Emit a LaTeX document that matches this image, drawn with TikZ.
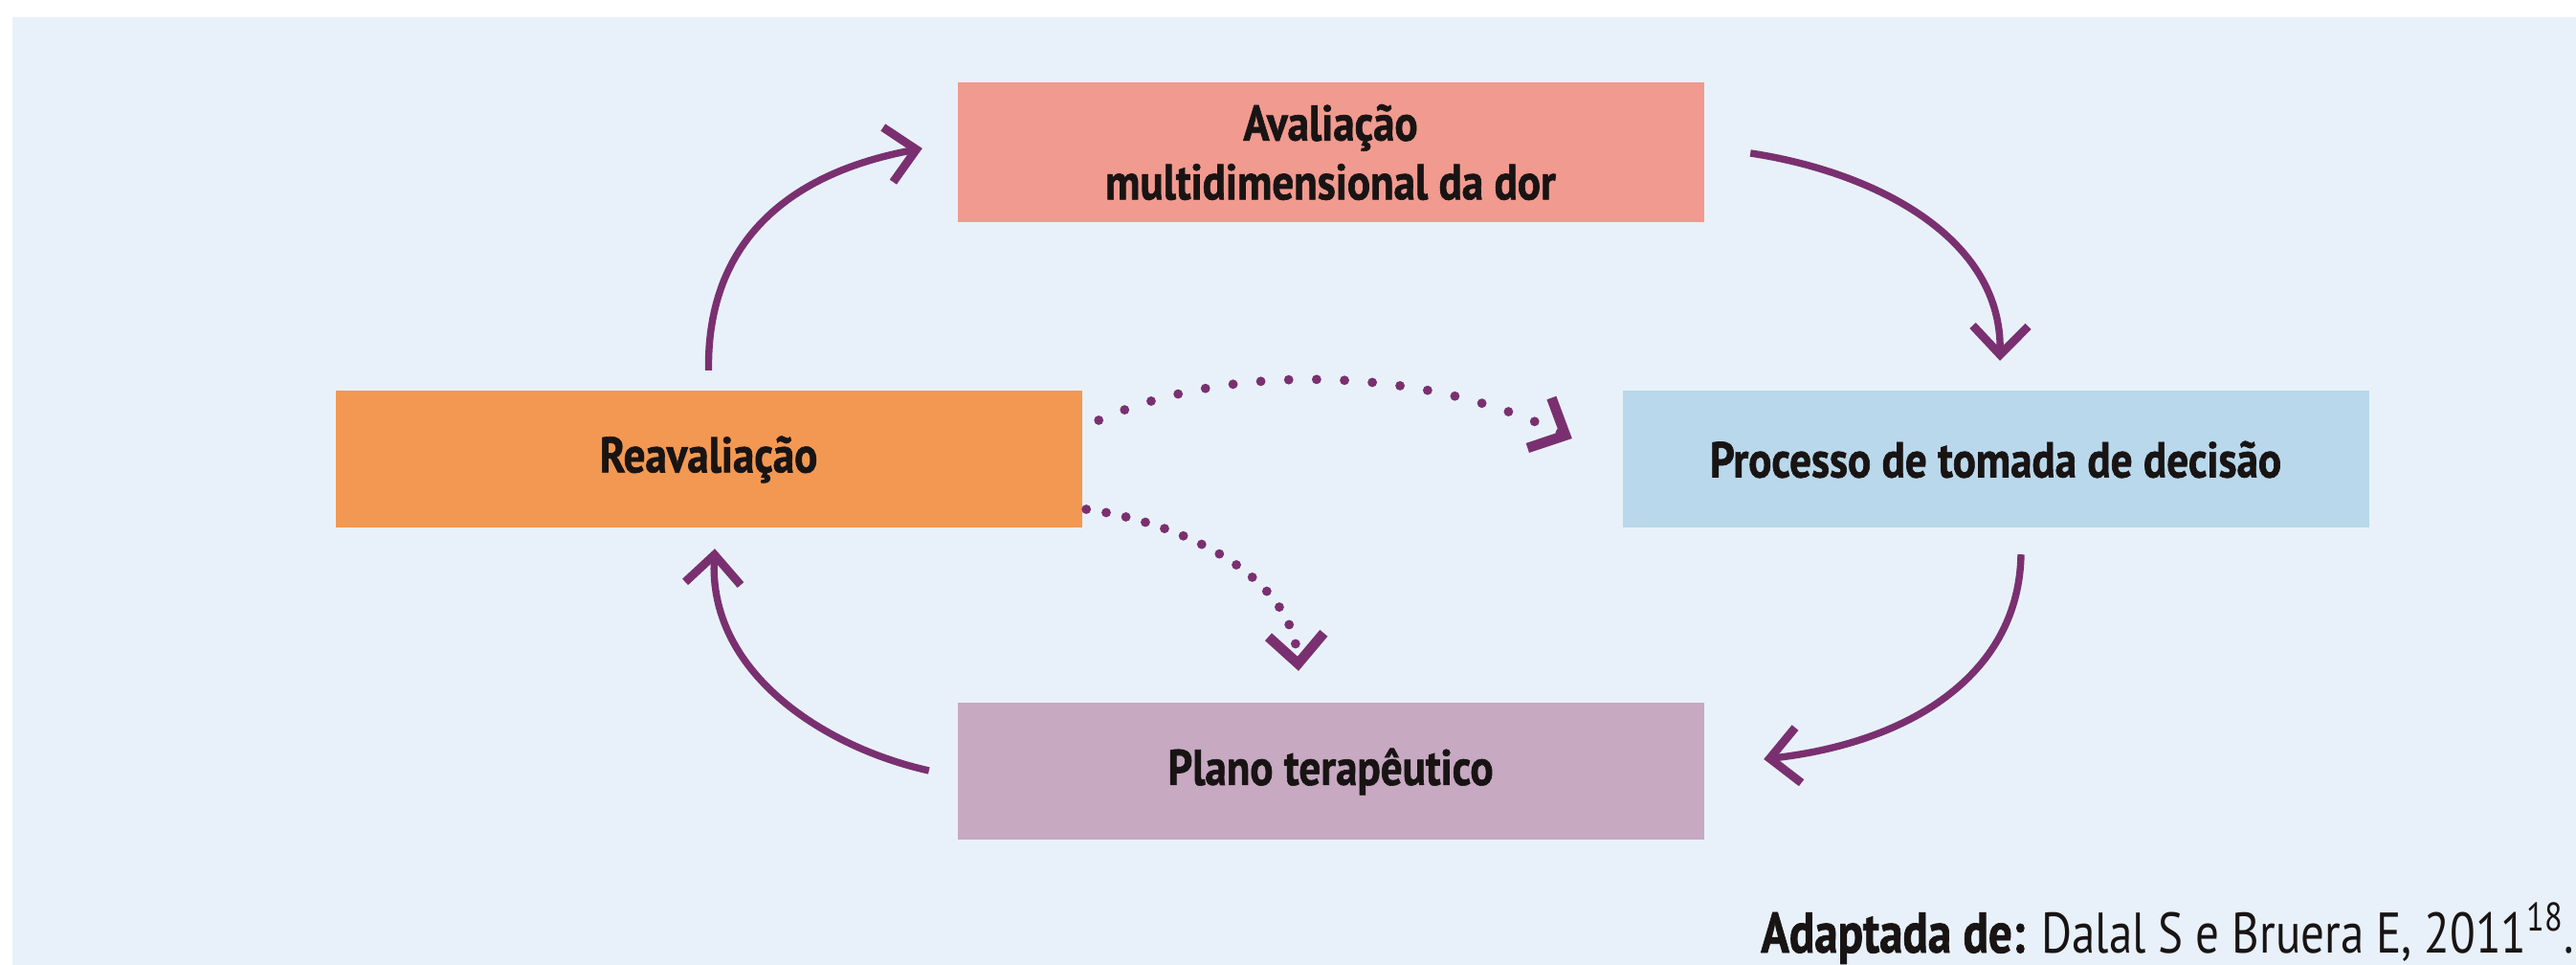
\documentclass[tikz,border=0pt]{standalone}
\usepackage{fontspec}
\setmainfont{PT Sans}[FakeStretch=0.86, BoldFeatures={FakeBold=1.2}]
\newfontfamily\capfont{PT Sans}[FakeStretch=0.82, BoldFeatures={FakeBold=1.2}]
\usetikzlibrary{arrows.meta,calc}
\definecolor{bgc}{RGB}{232,241,249}
\definecolor{avalc}{RGB}{241,154,143}
\definecolor{reavc}{RGB}{242,152,82}
\definecolor{procc}{RGB}{185,216,235}
\definecolor{planc}{RGB}{199,169,194}
\definecolor{arrc}{RGB}{122,48,112}
\definecolor{txt}{RGB}{25,20,20}
\tikzset{
  box/.style={rectangle, inner sep=0pt, minimum width=7.8cm, minimum height=1.43cm,
    align=center, text=txt, font=\fontsize{14.9}{17.5}\selectfont\bfseries},
  arr/.style={draw=arrc, line width=2.1pt,
    -{Straight Barb[length=0.3cm,width=0.58cm,line width=2.5pt]}},
  dotarr/.style={draw=arrc, line width=2.8pt, line cap=round, dash pattern=on 0pt off 8.3pt,
    -{Straight Barb[length=0.3cm,width=0.58cm,line width=3pt]}},
  dotarrb/.style={draw=arrc, line width=2.8pt, line cap=round, dash pattern=on 0pt off 6pt,
    -{Straight Barb[length=0.3cm,width=0.58cm,line width=3pt]}}
}
\begin{document}
\begin{tikzpicture}
\useasboundingbox (0,0) rectangle (26.92,-10.08);
\fill[white] (0,0) rectangle (26.92,-10.08);
\fill[bgc] (0.13,-0.18) rectangle (26.92,-10.08);

\node[box, fill=avalc, minimum height=1.46cm] (aval) at (13.905,-1.59) {Avaliação\\multidimensional da dor};
\node[box, fill=reavc] (reav) at (7.405,-4.80) {Reavaliação};
\node[box, fill=procc] (proc) at (20.855,-4.80) {Processo de tomada de decisão};
\node[box, fill=planc] (plan) at (13.905,-8.06) {Plano terapêutico};

\draw[arr] ($(reav.north)+(0,0.21)$) .. controls +(-0.02,1.38) and +(-1.35,-0.25) .. ($(aval.west)+(-0.36,0.04)$);
\draw[arr] ($(aval.east)+(0.48,-0.01)$) .. controls +(1.32,-0.20) and +(0.02,1.28) .. ($(proc.north)+(0.045,0.31)$);
\draw[arr] ($(proc.south)+(0.265,-0.27)$) .. controls +(-0.02,-1.22) and +(1.58,0.18) .. ($(plan.east)+(0.62,0.13)$);
\draw[arr] ($(plan.west)+(-0.29,0.01)$) .. controls +(-1.12,0.25) and +(-0.07,-1.28) .. ($(reav.south)+(0.065,-0.21)$);

\draw[dotarr] ($(reav.east)+(0.17,0.41)$) .. controls +(1.32,0.59) and +(-1.63,0.78) .. ($(proc.west)+(-0.52,0.22)$);
\draw[dotarrb] ($(reav.east)+(0.04,-0.52)$) .. controls +(0.95,-0.13) and +(-0.07,1.02) .. ($(plan.north)+(-0.335,0.33)$);

\node[anchor=base east, text=txt, inner sep=0pt, font=\capfont\fontsize{17}{20}\selectfont] (cap) at (26.91,-9.95)
  {\textbf{Adaptada de:} Dalal S e Bruera E, 2011\textsuperscript{18}.};
\end{tikzpicture}
\end{document}
